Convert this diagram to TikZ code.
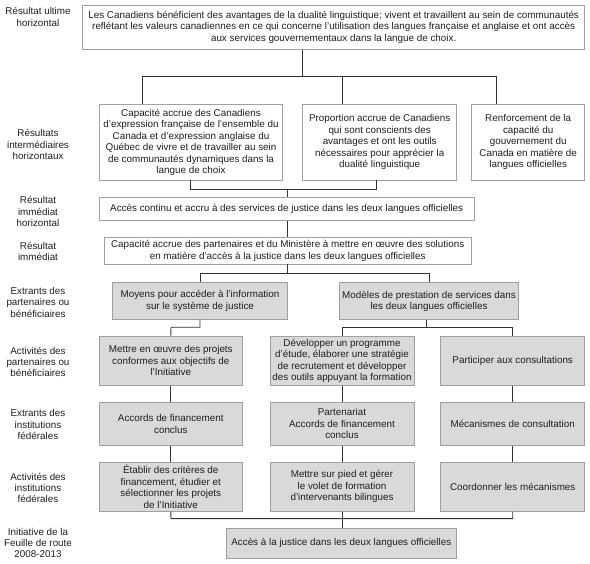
\documentclass[tikz,border=0pt]{standalone}
\usepackage{fontspec}
\setmainfont{Liberation Sans}
\definecolor{boxgray}{HTML}{D9D9D9}
\definecolor{edgegray}{HTML}{A0A0A0}
\definecolor{linecol}{HTML}{333333}
\definecolor{txtcol}{HTML}{1E1E1E}
\tikzset{
  txt/.style={font=\fontsize{9.85}{11.5}\selectfont, text=txtcol, align=center, inner sep=0pt},
  wbox/.style={txt, draw=edgegray, fill=white, line width=0.8pt},
  gbox/.style={txt, draw=edgegray, fill=boxgray, line width=0.8pt},
  lbl/.style={font=\fontsize{9.85}{11.3}\selectfont, text=txtcol, align=center, inner sep=0pt},
  conn/.style={draw=linecol, line width=0.9pt},
}
\begin{document}
\begin{tikzpicture}[x=1pt,y=-1pt]
\useasboundingbox (0,0) rectangle (590,564);
% labels
\node[lbl] (l1) at (38,17) {Résultat ultime\\horizontal};
\node[lbl] (l2) at (38,144.5) {Résultats\\intermédiaires\\horizontaux};
\node[lbl] (l3) at (38,211.5) {Résultat\\immédiat\\horizontal};
\node[lbl] (l4) at (38,251.3) {Résultat\\immédiat};
\node[lbl] (l5) at (38,302.3) {Extrants des\\partenaires ou\\bénéficiaires};
\node[lbl] (l6) at (38,362) {Activités des\\partenaires ou\\bénéficiaires};
\node[lbl] (l7) at (38,424.7) {Extrants des\\institutions\\fédérales};
\node[lbl] (l8) at (38,488) {Activités des\\institutions\\fédérales};
\node[lbl] (l9) at (38,542.8) {Initiative de la\\Feuille de route\\2008-2013};
% white boxes
\node[wbox, minimum width=502, minimum height=44.3] (top) at (333.7,27.2) {Les Canadiens bénéficient des avantages de la dualité linguistique; vivent et travaillent au sein de communautés\\reflétant les valeurs canadiennes en ce qui concerne l’utilisation des langues française et anglaise et ont accès\\aux services gouvernementaux dans la langue de choix.};
\node[wbox, minimum width=183.4, minimum height=75.7] (ir1) at (191,142.2) {Capacité accrue des Canadiens\\d’expression française de l’ensemble du\\Canada et d’expression anglaise du\\Québec de vivre et de travailler au sein\\de communautés dynamiques dans la\\langue de choix};
\node[wbox, minimum width=154, minimum height=75.7] (ir2) at (379.7,142.2) {Proportion accrue de Canadiens\\qui sont conscients des\\avantages et ont les outils\\nécessaires pour apprécier la\\dualité linguistique};
\node[wbox, minimum width=113, minimum height=75.7] (ir3) at (528.2,142.2) {Renforcement de la\\capacité du\\gouvernement du\\Canada en matière de\\langues officielles};
\node[wbox, minimum width=374.7, minimum height=23.4] (ih) at (286.7,209) {Accès continu et accru à des services de justice dans les deux langues officielles};
\node[wbox, minimum width=366.7, minimum height=26.7] (ii) at (287.7,250.7) {Capacité accrue des partenaires et du Ministère à mettre en œuvre des solutions\\en matière d’accès à la justice dans les deux langues officielles};
% gray boxes
\node[gbox, minimum width=174.6, minimum height=36.6] (ep1) at (200,301) {Moyens pour accéder à l’information\\sur le système de justice};
\node[gbox, minimum width=179.4, minimum height=37] (ep2) at (429,301.2) {Modèles de prestation de services dans\\les deux langues officielles};
\node[gbox, minimum width=143, minimum height=49.3] (ap1) at (170.8,360.7) {Mettre en œuvre des projets\\conformes aux objectifs de\\l’Initiative};
\node[gbox, minimum width=144, minimum height=49.3] (ap2) at (342,360.7) {Développer un programme\\d’étude, élaborer une stratégie\\de recrutement et développer\\des outils appuyant la formation};
\node[gbox, minimum width=144, minimum height=49.3] (ap3) at (512.7,360.7) {Participer aux consultations};
\node[gbox, minimum width=143, minimum height=43] (ef1) at (170.8,423.8) {Accords de financement\\conclus};
\node[gbox, minimum width=144, minimum height=43] (ef2) at (342,423.8) {Partenariat\\Accords de financement\\conclus};
\node[gbox, minimum width=144, minimum height=43] (ef3) at (512.7,423.8) {Mécanismes de consultation};
\node[gbox, minimum width=143, minimum height=49.3] (af1) at (170.8,486.7) {Établir des critères de\\financement, étudier et\\sélectionner les projets\\de l’Initiative};
\node[gbox, minimum width=144, minimum height=49.3] (af2) at (342,486.7) {Mettre sur pied et gérer\\le volet de formation\\d’intervenants bilingues};
\node[gbox, minimum width=144, minimum height=49.3] (af3) at (512.7,486.7) {Coordonner les mécanismes};
\node[gbox, minimum width=230.7, minimum height=30.7] (fin) at (341.3,543.3) {Accès à la justice dans les deux langues officielles};
% bus coordinates
\coordinate (b1) at (302.7,76);
\coordinate (b1L) at (142.7,76);
\coordinate (b1M) at (342.7,76);
\coordinate (b1R) at (496.7,76);
\coordinate (b2L) at (190.7,189.3);
\coordinate (b2R) at (376,189.3);
\coordinate (b2M) at (287,189.3);
\coordinate (b3) at (287,273.3);
\coordinate (b4) at (171,327.3);
\coordinate (b5) at (426.7,327.3);
\coordinate (b6) at (171,518.7);
\coordinate (b6R) at (512.7,518.7);
% connectors
\draw[conn] (top.south -| b1) -- (b1);
\draw[conn] (b1L) -- (b1R);
\draw[conn] (b1L) -- (ir1.north -| b1L);
\draw[conn] (b1M) -- (ir2.north -| b1M);
\draw[conn] (b1R) -- (ir3.north -| b1R);
\draw[conn] (ir1.south -| b2L) -- (b2L) -- (b2R) -- (ir2.south -| b2R);
\draw[conn] (b2M) -- (ih.north -| b2M);
\draw[conn] (ih.south -| b2M) -- (ii.north -| b2M);
\draw[conn] (ii.south -| b3) -- (b3);
\draw[conn] (ep1.north) -- (ep1.north |- b3) -- (ep2.north |- b3) -- (ep2.north);
\draw[conn] (ep1.south) -- (ep1.south |- b4) -- (b4) -- (ap1.north);
\draw[conn] (ep2.south -| b5) -- (b5);
\draw[conn] (ap2.north) -- (ap2.north |- b5) -- (ap3.north |- b5) -- (ap3.north);
\draw[conn] (ap1.south) -- (ef1.north);
\draw[conn] (ap2.south) -- (ef2.north);
\draw[conn] (ap3.south) -- (ef3.north);
\draw[conn] (ef1.south) -- (af1.north);
\draw[conn] (ef2.south) -- (af2.north);
\draw[conn] (ef3.south) -- (af3.north);
\draw[conn] (af1.south) -- (b6) -- (b6R) -- (af3.south);
\draw[conn] (af2.south) -- (fin.north -| af2.south);
\end{tikzpicture}
\end{document}
